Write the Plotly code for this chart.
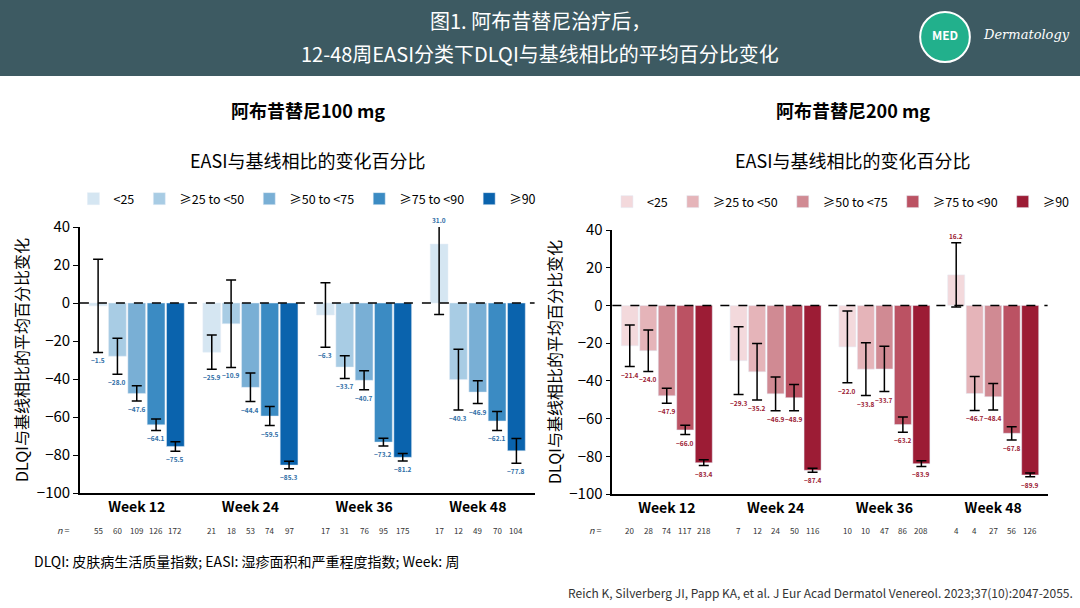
import plotly.graph_objects as go

weeks = ["Week 12", "Week 24", "Week 36", "Week 48"]
cats = ["<25", "≥25 to <50", "≥50 to <75", "≥75 to <90", "≥90"]
vals100 = [[-1.5, -25.9, -6.3, 31.0], [-28.0, -10.9, -33.7, -40.3], [-47.6, -44.4, -40.7, -46.9],
           [-64.1, -59.5, -73.2, -62.1], [-75.5, -85.3, -81.2, -77.8]]
err100 = [[24.5, 9, 17, 37], [9.5, 23, 6, 16], [4, 7.5, 5, 6], [3, 5, 2, 5], [2.5, 2, 2, 6.5]]
n100 = [[55, 21, 17, 17], [60, 18, 31, 12], [109, 53, 76, 49], [126, 74, 95, 70], [172, 97, 175, 104]]
vals200 = [[-21.4, -29.3, -22.0, 16.2], [-24.0, -35.2, -33.8, -46.7], [-47.9, -46.9, -33.7, -48.4],
           [-66.0, -48.9, -63.2, -67.8], [-83.4, -87.4, -83.9, -89.9]]
err200 = [[11, 18, 19, 17], [11, 15, 14, 9], [4, 9, 12, 7], [2.5, 7, 4, 3.5], [1.5, 1, 1.5, 1]]
n200 = [[20, 7, 10, 4], [28, 12, 10, 4], [74, 24, 47, 27], [117, 50, 86, 56], [218, 116, 208, 126]]
blues = ["#d5e6f2", "#a8cce4", "#79afd5", "#3b8bc3", "#0a63ad"]
reds = ["#f3d9dc", "#e5b4b9", "#d08a93", "#bb5263", "#9c1c35"]

FONT = "Noto Sans CJK SC"
bargap = 0.15
fig = go.Figure()
panels = [(vals100, err100, n100, blues, "#2f6ea6", "x", "y", "legend"),
          (vals200, err200, n200, reds, "#9c1c35", "x2", "y2", "legend2")]
nrow_y = 1 - 530 / 608
for vals, errs, ns, cols, tcol, xa, ya, lg in panels:
    for j, c in enumerate(cats):
        fig.add_trace(go.Bar(x=list(range(4)), y=vals[j], name=c, marker_color=cols[j],
                             error_y=dict(type="data", array=errs[j], color="black", thickness=1.5, width=5),
                             xaxis=xa, yaxis=ya, legend=lg, offsetgroup=str(j)))
        for i in range(4):
            xpos = i + (j - 2) * (1 - bargap) / 5
            v, e = vals[j][i], errs[j][i]
            fig.add_annotation(x=xpos, y=nrow_y, xref=xa, yref="paper", yanchor="middle", xanchor="center",
                               text=str(ns[j][i]), showarrow=False, font=dict(size=8, color="#333"))
            ypos = v - e if v < 0 else min(v + e, 40)
            fig.add_annotation(x=xpos, y=ypos, xref=xa, yref=ya, yanchor="top" if v < 0 else "bottom",
                               xanchor="center",
                               text=f"<b>{v:.1f}</b>".replace("-", "−"), showarrow=False,
                               font=dict(size=6.5, color=tcol), yshift=-1 if v < 0 else 0)
for xr in ["x domain", "x2 domain"]:
    fig.add_annotation(x=0, xref=xr, y=nrow_y, yref="paper", yanchor="middle",
                       text="<i>n</i> =", showarrow=False, xanchor="right", xshift=-8,
                       font=dict(size=9, color="#333"))

ax = dict(tickvals=list(range(4)), ticktext=["<b>%s</b>" % w for w in weeks], range=[-0.5, 3.5],
          showline=True, linecolor="black", linewidth=1.5, ticks="", tickfont=dict(size=14, color="black", family=FONT))
ay = dict(range=[-100, 40], dtick=20, showline=True, linecolor="black", linewidth=1.5, ticks="outside",
          tickcolor="black", showgrid=False, zeroline=False, tickfont=dict(size=15, color="black", family=FONT),
          title=dict(text="DLQI与基线相比的平均百分比变化", font=dict(size=16, color="black"), standoff=4))
fig.update_layout(
    width=1080, height=608, margin=dict(l=0, r=0, t=0, b=0, autoexpand=False), plot_bgcolor="white",
    paper_bgcolor="white",
    font=dict(family=FONT), barmode="group", bargap=bargap, bargroupgap=0.08,
    xaxis=dict(domain=[0.074, 0.495], anchor="y", **ax),
    xaxis2=dict(domain=[0.567, 0.97], anchor="y2", **ax),
    yaxis=dict(domain=[1 - 493 / 608, 1 - 227 / 608], anchor="x", **ay),
    yaxis2=dict(domain=[1 - 494 / 608, 1 - 230 / 608], anchor="x2", **ay),
    legend=dict(orientation="h", x=0.068, y=1 - 199 / 608, xanchor="left", yanchor="middle",
                font=dict(size=12.5, color="black"), itemwidth=30),
    legend2=dict(orientation="h", x=0.562, y=1 - 202 / 608, xanchor="left", yanchor="middle",
                 font=dict(size=12.5, color="black"), itemwidth=30),
    showlegend=True,
)
for xr, yr in [("x", "y"), ("x2", "y2")]:
    fig.add_shape(type="line", xref=xr + " domain", yref=yr, x0=0, x1=1, y0=0, y1=0,
                  line=dict(color="black", width=1.5, dash="dash"))
fig.add_shape(type="rect", xref="paper", yref="paper", x0=0, x1=1, y0=1 - 76 / 608, y1=1,
              fillcolor="#3d5a62", line_width=0, layer="below")
fig.add_shape(type="circle", xref="paper", yref="paper", x0=0.852, x1=0.898, y0=1 - 62 / 608, y1=1 - 12 / 608,
              fillcolor="#22b08c", line_color="white", line_width=2)
fig.add_annotation(x=0.875, y=1 - 34 / 608, xref="paper", yref="paper", showarrow=False, xanchor="center",
                   yanchor="middle", text="<b>MED</b>", font=dict(size=12, color="white"))
fig.add_annotation(x=0.5, y=1 - 21 / 608, xref="paper", yref="paper", showarrow=False, xanchor="center",
                   yanchor="middle", text="图1. 阿布昔替尼治疗后，", font=dict(size=20, color="white"))
fig.add_annotation(x=0.5, y=1 - 53 / 608, xref="paper", yref="paper", showarrow=False, xanchor="center",
                   yanchor="middle", text="12-48周EASI分类下DLQI与基线相比的平均百分比变化",
                   font=dict(size=20, color="white"))
fig.add_annotation(x=0.993, y=1 - 35 / 608, xref="paper", yref="paper", showarrow=False, xanchor="right",
                   yanchor="middle", text="<i>Dermatology</i>", font=dict(size=13, color="white", family="DejaVu Serif"))
for x, t in [(0.285, "阿布昔替尼100 mg"), (0.79, "阿布昔替尼200 mg")]:
    fig.add_annotation(x=x, y=1 - 110 / 608, xref="paper", yref="paper", showarrow=False, xanchor="center",
                       yanchor="middle", text="<b>%s</b>" % t, font=dict(size=18, color="black"))
    fig.add_annotation(x=x, y=1 - 160 / 608, xref="paper", yref="paper", showarrow=False, xanchor="center",
                       yanchor="middle", text="EASI与基线相比的变化百分比", font=dict(size=18, color="black"))
fig.add_annotation(x=0.03, y=1 - 561 / 608, xref="paper", yref="paper", showarrow=False, xanchor="left",
                   yanchor="middle", text="DLQI: 皮肤病生活质量指数; EASI: 湿疹面积和严重程度指数; Week: 周",
                   font=dict(size=14, color="black"))
fig.add_annotation(x=0.995, y=1 - 592 / 608, xref="paper", yref="paper", showarrow=False, xanchor="right",
                   yanchor="middle",
                   text="Reich K, Silverberg JI, Papp KA, et al. J Eur Acad Dermatol Venereol. 2023;37(10):2047-2055.",
                   font=dict(size=12, color="#333"))
fig.write_html("out.html", post_script="document.body.style.margin='0';",
               config={"displayModeBar": False})
